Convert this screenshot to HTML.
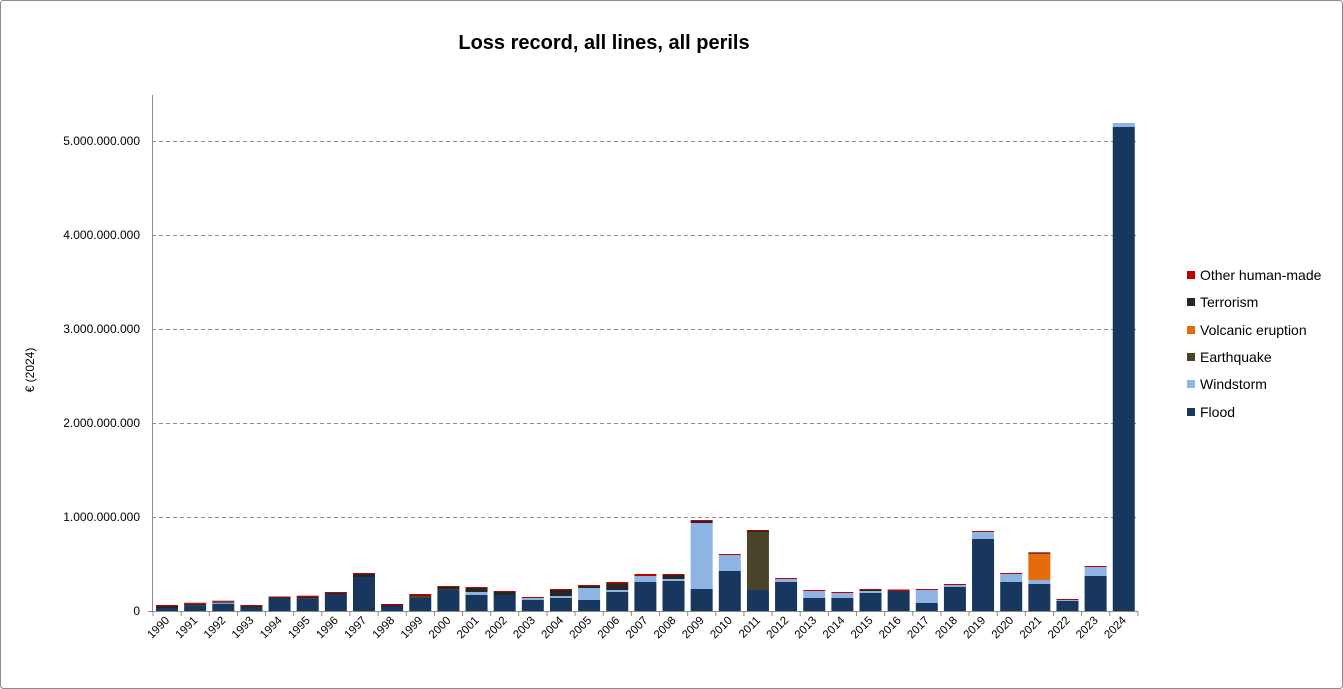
<!DOCTYPE html>
<html><head><meta charset="utf-8"><style>
html,body{margin:0;padding:0;background:#fff}
svg{display:block;font-family:"Liberation Sans",sans-serif}
</style></head><body>
<svg id="c" width="1343" height="689" viewBox="0 0 1343 689" xmlns="http://www.w3.org/2000/svg">
<rect x="0.5" y="0.5" width="1342" height="688" fill="#fff" stroke="#8c8c8c" rx="3"/>
<text x="604" y="49" text-anchor="middle" font-size="20" font-weight="bold" fill="#000">Loss record, all lines, all perils</text>
<text transform="translate(34,370) rotate(-90)" text-anchor="middle" font-size="12" fill="#000">€ (2024)</text>
<g stroke="#8c8c8c" stroke-dasharray="4,3" stroke-width="1">
<line x1="152" x2="1138" y1="517.5" y2="517.5"/>
<line x1="152" x2="1138" y1="423.5" y2="423.5"/>
<line x1="152" x2="1138" y1="329.5" y2="329.5"/>
<line x1="152" x2="1138" y1="235.5" y2="235.5"/>
<line x1="152" x2="1138" y1="141.5" y2="141.5"/>
</g>
<g font-size="12" fill="#000" text-anchor="end">
<text x="140" y="615">0</text>
<text x="140" y="521">1.000.000.000</text>
<text x="140" y="427">2.000.000.000</text>
<text x="140" y="333">3.000.000.000</text>
<text x="140" y="239">4.000.000.000</text>
<text x="140" y="145">5.000.000.000</text>
</g>
<g id="bars"></g>
<line x1="152.5" x2="152.5" y1="95" y2="611" stroke="#8c8c8c"/>
<line x1="148" x2="1138" y1="611.5" y2="611.5" stroke="#8c8c8c"/>
<g id="ticks" stroke="#8c8c8c"></g>
<g font-size="11.5" fill="#000" text-anchor="end">
<text transform="translate(170,621) rotate(-45)">1990</text>
<text transform="translate(198.1,621) rotate(-45)">1991</text>
<text transform="translate(226.3,621) rotate(-45)">1992</text>
<text transform="translate(254.4,621) rotate(-45)">1993</text>
<text transform="translate(282.6,621) rotate(-45)">1994</text>
<text transform="translate(310.7,621) rotate(-45)">1995</text>
<text transform="translate(338.8,621) rotate(-45)">1996</text>
<text transform="translate(367,621) rotate(-45)">1997</text>
<text transform="translate(395.1,621) rotate(-45)">1998</text>
<text transform="translate(423.3,621) rotate(-45)">1999</text>
<text transform="translate(451.4,621) rotate(-45)">2000</text>
<text transform="translate(479.5,621) rotate(-45)">2001</text>
<text transform="translate(507.7,621) rotate(-45)">2002</text>
<text transform="translate(535.8,621) rotate(-45)">2003</text>
<text transform="translate(564,621) rotate(-45)">2004</text>
<text transform="translate(592.1,621) rotate(-45)">2005</text>
<text transform="translate(620.2,621) rotate(-45)">2006</text>
<text transform="translate(648.4,621) rotate(-45)">2007</text>
<text transform="translate(676.5,621) rotate(-45)">2008</text>
<text transform="translate(704.7,621) rotate(-45)">2009</text>
<text transform="translate(732.8,621) rotate(-45)">2010</text>
<text transform="translate(760.9,621) rotate(-45)">2011</text>
<text transform="translate(789.1,621) rotate(-45)">2012</text>
<text transform="translate(817.2,621) rotate(-45)">2013</text>
<text transform="translate(845.4,621) rotate(-45)">2014</text>
<text transform="translate(873.5,621) rotate(-45)">2015</text>
<text transform="translate(901.6,621) rotate(-45)">2016</text>
<text transform="translate(929.8,621) rotate(-45)">2017</text>
<text transform="translate(957.9,621) rotate(-45)">2018</text>
<text transform="translate(986.1,621) rotate(-45)">2019</text>
<text transform="translate(1014.2,621) rotate(-45)">2020</text>
<text transform="translate(1042.3,621) rotate(-45)">2021</text>
<text transform="translate(1070.5,621) rotate(-45)">2022</text>
<text transform="translate(1098.6,621) rotate(-45)">2023</text>
<text transform="translate(1126.8,621) rotate(-45)">2024</text>
</g>
<g font-size="14" fill="#000">
<rect x="1187" y="271" width="8" height="8" fill="#c00000"/><text x="1200" y="280">Other human-made</text>
<rect x="1187" y="298" width="8" height="8" fill="#262626"/><text x="1200" y="307">Terrorism</text>
<rect x="1187" y="326" width="8" height="8" fill="#e46c0a"/><text x="1200" y="335">Volcanic eruption</text>
<rect x="1187" y="353" width="8" height="8" fill="#4a452a"/><text x="1200" y="362">Earthquake</text>
<rect x="1187" y="380" width="8" height="8" fill="#8eb4e3"/><text x="1200" y="389">Windstorm</text>
<rect x="1187" y="408" width="8" height="8" fill="#17375e"/><text x="1200" y="417">Flood</text>
</g>
</svg>
<script>
var C=["#17375e","#8eb4e3","#4a452a","#e46c0a","#262626","#c00000"];
var D=[[3,0,0,0,2,1],[5.3,0,0,0,2,1],[7.3,1,0,0,1,1],[4,0,0,0,1,1],[13,0,0,0,.5,1],
[12.7,0,0,0,1.3,1.3],[17,0,0,0,1,1],[34,0,0,0,3,1],[5,0,0,0,1,1],[13,0,2,0,.5,1.5],
[21.3,0,0,0,2.7,1],[16,3,0,0,4,1],[16,0,0,0,3,1],[11,2,0,0,0,1],[13,2,0,0,6,1],
[11,12,0,0,2,1],[19,2,0,0,6.5,1.5],[29,6,0,0,0,2],[30,2,0,0,4,1],[22,66,0,0,2,1],
[40,16,0,0,0,1],[21,0,58,0,1,1],[29,3,0,0,0,1],[13,7,0,0,0,1],[13,5,0,0,0,1],
[18,2,0,0,1,1],[20,0,0,0,0,1.5],[8,13,0,0,0,1],[24,2,0,0,0,1],[72,7,0,0,0,1],
[29,8,0,0,0,1],[27,4,0,26,.7,1],[10,1,0,0,0,1],[35,9,0,0,0,1],[484,4,0,0,0,0]];
var g=document.getElementById("bars"),t=document.getElementById("ticks"),ns="http://www.w3.org/2000/svg";
for(var i=0;i<D.length;i++){var x=156+i*28.14,y=611;
for(var k=0;k<6;k++){var h=D[i][k];if(!h)continue;y-=h;var r=document.createElementNS(ns,"rect");
r.setAttribute("x",x);r.setAttribute("y",y);r.setAttribute("width",22);r.setAttribute("height",h);r.setAttribute("fill",C[k]);g.appendChild(r);}}
for(var i=0;i<=35;i++){var l=document.createElementNS(ns,"line");var xx=153+i*28.14;
l.setAttribute("x1",xx);l.setAttribute("x2",xx);l.setAttribute("y1",611);l.setAttribute("y2",616);t.appendChild(l);}
</script>
</body></html>
